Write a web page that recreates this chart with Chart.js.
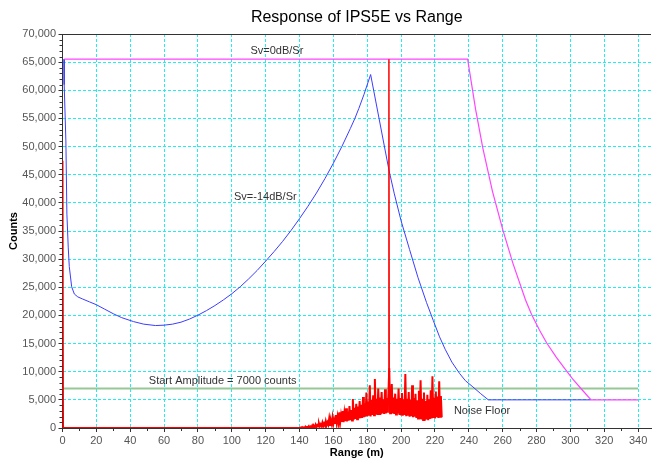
<!DOCTYPE html>
<html>
<head>
<meta charset="utf-8">
<script src="https://cdn.jsdelivr.net/npm/chart.js@4/dist/chart.umd.min.js"></script>
<style>
  body { margin: 0; background: #fff; }
  canvas { display: block; }
</style>
</head>
<body>
<canvas id="rangeChart" width="652" height="462"></canvas>
<script>
// Sv = 0 dB/Sr response
const sv0Range  = [1, 239.3, 241, 244, 248.3, 254, 260, 266, 273.5, 277, 281.7, 286, 291.6, 296, 301.4, 307, 312.2, 340];
const sv0Counts = [65535, 65535, 62300, 56600, 49700, 42000, 35300, 29300, 22750, 20200, 17400, 15100, 12600, 10800, 8700, 6750, 5000, 5000];

// Sv = -14 dB/Sr response
const sv14Range  = [0.9, 1.0, 2.0, 2.6, 3.4, 4.0, 5.4, 7, 9, 12, 16, 20, 25, 30, 35, 42, 48, 55, 60, 65, 70, 75, 80, 85, 90, 95, 100, 105, 110, 115, 120, 125, 130, 135, 140, 145, 150, 155, 160, 165, 170, 172.7, 175, 178, 182, 192.8, 196, 200, 205, 210, 215, 219, 222.7, 226, 230, 234.5, 238, 242.4, 247, 251.5, 312];
const sv14Counts = [65535, 61000, 51000, 38000, 32000, 28700, 25100, 23800, 23300, 22900, 22400, 21900, 21100, 20300, 19600, 18900, 18450, 18200, 18270, 18450, 18800, 19350, 20050, 20850, 21750, 22750, 23850, 25100, 26500, 28000, 29650, 31350, 33150, 35100, 37200, 39400, 41750, 44300, 47050, 50000, 53200, 55000, 56750, 59200, 62800, 45850, 41600, 36800, 31700, 26700, 22300, 19100, 16200, 14000, 11700, 9700, 8400, 7300, 6100, 5000, 5000];

// start amplitude threshold
const startRange  = [0, 340];
const startCounts = [7000, 7000];

// noise floor: lead-in points, then samples every 0.5 m from 140 m
const leadRange  = [0, 0.3, 139.5];
const leadCounts = [47500, 0, 0];
const noiseStart = 140;
const noiseStep = 0.5;
const noiseCounts = [
  0, 80, 20, 150, 0, 120, 40, 250, 60, 180,
  90, 320, 50, 260, 120, 450, 150, 380, 180, 600,
  200, 520, 260, 800, 300, 650, 350, 950, 320, 780,
  450, 1200, 500, 1000, 600, 1650, 550, 1300, 700, 1900,
  750, 1500, 900, 2300, 850, 2000, 1000, 2800, 950, 2200,
  1100, 3000, 1050, 2600, 1200, 3500, 1150, 2900, 1300, 3900,
  1400, 3200, 1350, 5150, 1500, 3600, 1600, 4300, 1550, 3800,
  1700, 4800, 1750, 4100, 1800, 5500, 1900, 4400, 2000, 6300,
  2100, 4700, 2200, 7600, 2050, 5000, 2300, 5800, 2250, 8700,
  2400, 5200, 2300, 7000, 2500, 5400, 2400, 6400, 2600, 5100,
  2500, 6900, 2600, 5300, 2700, 6000, 10600, 2600, 2700, 7800,
  2600, 5400, 2500, 6100, 2400, 5200, 2600, 7000, 2300, 5300,
  2400, 6200, 2200, 5100, 2300, 9600, 2100, 5200, 2200, 6400,
  2000, 5000, 2100, 7600, 1900, 5300, 2000, 6100, 1800, 4900,
  1700, 6600, 1600, 8500, 1500, 5200, 1400, 6300, 1300, 4800,
  1500, 5900, 1400, 5100, 1600, 6700, 1700, 9200, 1800, 5400,
  1700, 6500, 1900, 5600, 1800, 8300, 2000, 5700, 1900
];

// target return spike
const spikeRange  = [192.6, 192.8, 193.0];
const spikeCounts = [2800, 65535, 2800];

const xTicks = [0, 20, 40, 60, 80, 100, 120, 140, 160, 180, 200, 220, 240, 260, 280, 300, 320, 340];

const notes = [
  { text: 'Sv=0dB/Sr', x: 111, y: 67000 },
  { text: 'Sv=-14dB/Sr', x: 101.3, y: 41000 },
  { text: 'Start Amplitude = 7000 counts', x: 51, y: 8400 },
  { text: 'Noise Floor', x: 231.2, y: 3000 }
];

const pts = (xs, ys) => xs.map((x, i) => ({ x: x, y: ys[i] }));

const noisePts = pts(leadRange, leadCounts).concat(
  noiseCounts.map((y, i) => ({ x: noiseStart + i * noiseStep, y: y }))
);

const FONT = "'Liberation Sans', Arial, sans-serif";

const extras = {
  id: 'extras',
  afterDraw(chart) {
    const ctx = chart.ctx;
    const area = chart.chartArea;
    const xs = chart.scales.x;
    const ys = chart.scales.y;
    ctx.save();
    // top border
    ctx.strokeStyle = '#333';
    ctx.lineWidth = 1;
    ctx.beginPath();
    ctx.moveTo(area.left, Math.round(area.top) + 0.5);
    ctx.lineTo(area.right, Math.round(area.top) + 0.5);
    ctx.stroke();
    // minor ticks
    ctx.beginPath();
    for (let v = 10; v <= 340; v += 20) {
      const px = Math.round(xs.getPixelForValue(v)) + 0.5;
      ctx.moveTo(px, area.bottom);
      ctx.lineTo(px, area.bottom + 3);
    }
    for (let v = 1000; v < 70000; v += 1000) {
      if (v % 5000 === 0) continue;
      const py = Math.round(ys.getPixelForValue(v)) + 0.5;
      ctx.moveTo(area.left - 3, py);
      ctx.lineTo(area.left, py);
    }
    ctx.stroke();
    // notes
    ctx.fillStyle = '#333';
    ctx.font = '11px ' + FONT;
    ctx.textAlign = 'left';
    ctx.textBaseline = 'middle';
    notes.forEach(n => {
      ctx.fillText(n.text, xs.getPixelForValue(n.x), ys.getPixelForValue(n.y));
    });
    ctx.restore();
  }
};

new Chart(document.getElementById('rangeChart'), {
  type: 'line',
  data: {
    datasets: [
      {
        label: 'Target',
        data: pts(spikeRange, spikeCounts),
        borderColor: '#ff0000',
        borderWidth: 1.5
      },
      {
        label: 'Noise Floor',
        data: noisePts,
        borderColor: '#ff0000',
        borderWidth: 2
      },
      {
        label: 'Sv=0dB/Sr',
        data: pts(sv0Range, sv0Counts),
        borderColor: '#ff44ff',
        borderWidth: 1.2
      },
      {
        label: 'Sv=-14dB/Sr',
        data: pts(sv14Range, sv14Counts),
        borderColor: '#3c3cff',
        borderWidth: 1
      },
      {
        label: 'Start Amplitude',
        data: pts(startRange, startCounts),
        borderColor: '#96c896',
        borderWidth: 2
      }
    ]
  },
  options: {
    responsive: false,
    animation: false,
    elements: {
      point: { radius: 0 },
      line: { tension: 0 }
    },
    layout: { padding: { left: 0, right: 1, top: 0, bottom: 0 } },
    plugins: {
      legend: { display: false },
      tooltip: { enabled: false },
      title: {
        display: true,
        text: 'Response of IPS5E vs Range',
        fullSize: false,
        color: '#000',
        font: { family: FONT, size: 16, weight: 'normal' },
        padding: { top: 8, bottom: 6.8 }
      }
    },
    scales: {
      x: {
        type: 'linear',
        min: 0,
        max: 347.6,
        afterBuildTicks: scale => {
          scale.ticks = xTicks.map(v => ({ value: v }));
        },
        afterFit: scale => { scale.height = 34; },
        grid: {
          color: '#22eef0',
          tickColor: '#333',
          tickLength: 4
        },
        border: { color: '#333', dash: [3, 2] },
        ticks: {
          color: '#555',
          padding: 2,
          maxRotation: 0,
          font: { family: FONT, size: 11 }
        },
        title: {
          display: true,
          text: 'Range (m)',
          color: '#000',
          font: { family: FONT, size: 11, weight: 'bold' },
          padding: { top: 0, bottom: 2.4 }
        }
      },
      y: {
        min: 0,
        max: 70000,
        afterFit: scale => { scale.width = 62.5; },
        grid: {
          color: '#22eef0',
          tickColor: '#333',
          tickLength: 4
        },
        border: { color: '#333', dash: [3, 2] },
        ticks: {
          stepSize: 5000,
          color: '#555',
          padding: 2.5,
          font: { family: FONT, size: 11 }
        },
        title: {
          display: true,
          text: 'Counts',
          color: '#000',
          font: { family: FONT, size: 11, weight: 'bold' },
          padding: { top: 7.4, bottom: 0 }
        }
      }
    }
  },
  plugins: [extras]
});
</script>
</body>
</html>
